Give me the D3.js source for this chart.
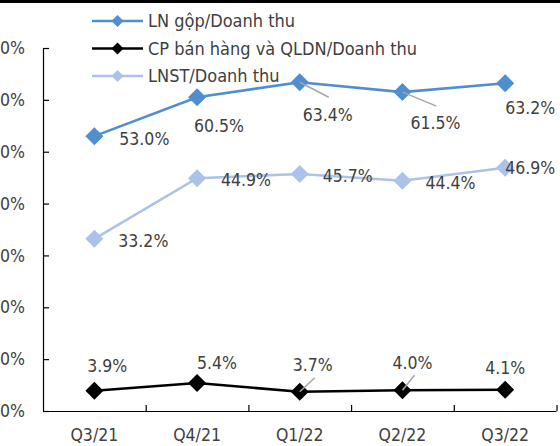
<!DOCTYPE html>
<html>
<head>
<meta charset="utf-8">
<script src="https://cdn.jsdelivr.net/npm/d3@7"></script>
<style>
  body { margin: 0; background: #fff; }
  svg { display: block; font-family: "DejaVu Sans Condensed", "DejaVu Sans", sans-serif; font-stretch: condensed; }
</style>
</head>
<body>
<div id="chart"></div>
<script>
const w = 560, h = 446

// data
const categories = ['Q3/21', 'Q4/21', 'Q1/22', 'Q2/22', 'Q3/22']
const lnGop = [53.0, 60.5, 63.4, 61.5, 63.2]
const cpBanHang = [3.9, 5.4, 3.7, 4.0, 4.1]
const lnst = [33.2, 44.9, 45.7, 44.4, 46.9]
const yTicks = [0, 10, 20, 30, 40, 50, 60, 70]
const seriesNames = ['LN gộp/Doanh thu', 'CP bán hàng và QLDN/Doanh thu', 'LNST/Doanh thu']

// label placement (px offsets from the point), third flag = leader line
const lnGopLabels = [[25, 3], [-3, 28], [3, 32, true], [8, 31, true], [0, 24]]
const cpLabels = [[-7, -25], [0, -20], [-7, -27, true], [-10, -28, true], [-20, -22]]
const lnstLabels = [[24, 2], [24, 2], [23, 2], [23, 2], [0, 0]]

const series = [
  { name: seriesNames[0], values: lnGop, color: '#4f8ecf', labels: lnGopLabels },
  { name: seriesNames[1], values: cpBanHang, color: '#000000', labels: cpLabels },
  { name: seriesNames[2], values: lnst, color: '#abc3e8', labels: lnstLabels }
]

const margin = { top: 48, right: 4, bottom: 35, left: 43 }
const width = w - margin.left - margin.right
const height = 411 - margin.top

const svg = d3.select('#chart').append('svg')
  .attr('width', w)
  .attr('height', h)

svg.append('rect')
  .attr('x', 0).attr('y', 0)
  .attr('width', w).attr('height', 3)
  .attr('fill', '#000')

const g = svg.append('g')
  .attr('transform', 'translate(' + margin.left + ',' + margin.top + ')')

const x = d3.scaleBand().domain(categories).range([0, width + 0.5])
const y = d3.scaleLinear().domain([0, 70]).range([height, 0])
const cx = d => x(d) + x.bandwidth() / 2

// y axis
const yAxis = d3.axisLeft(y)
  .tickValues(yTicks)
  .tickFormat(d => d + '%')
  .tickSize(-6)
  .tickPadding(18)
const ya = g.append('g').call(yAxis)
ya.select('.domain').attr('d', 'M0.5,' + y(70) + 'V' + height)
ya.selectAll('.tick line').attr('x1', 0.5).attr('x2', 6)

// x axis
const xAxis = d3.axisBottom(x).tickSize(0).tickPadding(18)
const xa = g.append('g')
  .attr('transform', 'translate(0,' + height + ')')
  .call(xAxis)
xa.select('.domain').attr('d', 'M0,0.5H' + (width + 0.5))
xa.selectAll('.bound')
  .data(categories)
  .enter().append('line')
  .attr('x1', d => x(d) + x.bandwidth() + 0.5)
  .attr('x2', d => x(d) + x.bandwidth() + 0.5)
  .attr('y1', 0).attr('y2', -6)

g.selectAll('.domain, line').attr('stroke', '#000').attr('stroke-width', 1.2)
g.selectAll('.tick text')
  .attr('fill', '#404040')
  .style('font-size', '17.5px')
  .style('font-family', '"DejaVu Sans Condensed", "DejaVu Sans", sans-serif')
xa.selectAll('.tick text').attr('dy', '0.71em')

const line = d3.line()
  .x((d, i) => cx(categories[i]))
  .y(d => y(d))

const diamond = d3.symbol().type(d3.symbolSquare).size(162)

series.forEach(s => {
  g.append('path')
    .attr('d', line(s.values))
    .attr('fill', 'none')
    .attr('stroke', s.color)
    .attr('stroke-width', 2.6)

  g.selectAll(null)
    .data(s.values)
    .enter().append('path')
    .attr('d', diamond)
    .attr('fill', s.color)
    .attr('transform', (d, i) => 'translate(' + cx(categories[i]) + ',' + y(d) + ') rotate(45)')
})

// data labels
series.forEach(s => {
  s.values.forEach((v, i) => {
    const px = cx(categories[i]), py = y(v)
    const off = s.labels[i]
    if (off[2]) {
      const lx = off[1] > 0 ? px + off[0] + 26 : px + off[0] + 22
      const ly = off[1] > 0 ? py + off[1] - 17 : py + off[1] + 13
      g.append('line')
        .attr('x1', px).attr('y1', py)
        .attr('x2', lx).attr('y2', ly)
        .attr('stroke', '#a6a6a6')
        .attr('stroke-width', 1.5)
    }
    g.append('text')
      .attr('x', px + off[0])
      .attr('y', py + off[1])
      .attr('dy', '0.36em')
      .attr('fill', '#404040')
      .style('font-size', '17.5px')
      .text(v.toFixed(1) + '%')
  })
})

// legend
const legend = svg.append('g').attr('transform', 'translate(92,21)')
const legendRow = legend.selectAll('g')
  .data(series)
  .enter().append('g')
  .attr('transform', (d, i) => 'translate(0,' + i * 27.5 + ')')
legendRow.append('line')
  .attr('x1', 0).attr('x2', 51)
  .attr('stroke', d => d.color)
  .attr('stroke-width', 2.6)
legendRow.append('path')
  .attr('d', d3.symbol().type(d3.symbolSquare).size(72))
  .attr('fill', d => d.color)
  .attr('transform', 'translate(25.5,0) rotate(45)')
legendRow.append('text')
  .attr('x', 56)
  .attr('dy', '0.36em')
  .attr('fill', '#404040')
  .style('font-size', '18px')
  .text(d => d.name)
</script>
</body>
</html>
